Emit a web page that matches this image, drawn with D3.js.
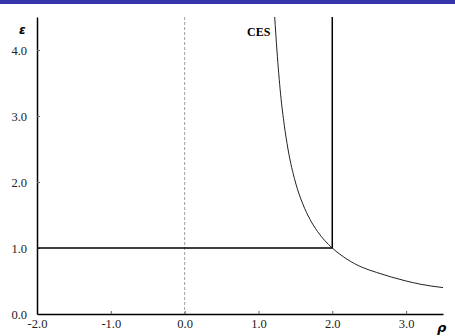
<!DOCTYPE html>
<html>
<head>
<meta charset="utf-8">
<script src="https://cdn.jsdelivr.net/npm/d3@7"></script>
<style>
  body { margin: 0; background: #fff; }
  svg { display: block; }
</style>
</head>
<body>
<div id="chart"></div>
<script>
// values
var rhoTicks = [-2, -1, 0, 1, 2, 3];
var epsTicks = [0, 1, 2, 3, 4];
var cesRho = [1.22, 1.25, 1.3, 1.35, 1.4, 1.5, 1.6, 1.7, 1.8, 1.9, 2.0, 2.2, 2.4, 2.6, 2.8, 3.0, 3.2, 3.5];
var cesEps = [4.5, 4.0, 3.33, 2.86, 2.5, 2.0, 1.67, 1.43, 1.25, 1.11, 1.0, 0.83, 0.71, 0.63, 0.56, 0.5, 0.45, 0.4];
var cornerRho = 2.0, cornerEps = 1.0;

var w = 455, h = 336;
var margin = { top: 17, right: 12, bottom: 22, left: 37 };

var svg = d3.select("#chart")
    .append("svg")
    .attr("width", w)
    .attr("height", h);

// header bar
svg.append("rect")
    .attr("x", 0).attr("y", 0)
    .attr("width", w).attr("height", 4)
    .attr("fill", "#3333aa");

var x = d3.scaleLinear().domain([-2, 3.5]).range([margin.left, w - margin.right]);
var y = d3.scaleLinear().domain([0, 4.5]).range([h - margin.bottom, margin.top]);

var fmt = d => d.toFixed(1);

// dashed line at rho = 0
svg.append("line")
    .attr("x1", x(0)).attr("x2", x(0))
    .attr("y1", y(4.5)).attr("y2", y(0))
    .attr("stroke", "#888")
    .attr("stroke-dasharray", "3,2")
    .attr("stroke-width", 0.8);

// axes
var xAxis = d3.axisBottom(x).tickValues(rhoTicks).tickFormat(fmt).tickSize(-3).tickSizeOuter(0).tickPadding(5);
var yAxis = d3.axisLeft(y).tickValues(epsTicks).tickFormat(fmt).tickSize(-3).tickSizeOuter(0).tickPadding(10);

function styleAxis(g) {
    g.select(".domain").attr("stroke", "#000").attr("stroke-width", 1.5);
    g.selectAll(".tick line").attr("stroke", "#666");
    g.selectAll(".tick text")
        .attr("font-family", "Liberation Serif, Times New Roman, serif")
        .attr("font-size", 12.5)
        .attr("fill", "#222");
}

var gx = svg.append("g")
    .attr("transform", "translate(0," + y(0) + ")")
    .call(xAxis)
    .call(styleAxis);

var gy = svg.append("g")
    .attr("transform", "translate(" + x(-2) + ",0)")
    .call(yAxis)
    .call(styleAxis);
gy.selectAll(".tick").filter(d => d === 0).select("line").remove();
gx.selectAll(".tick").filter(d => d === -2).select("line").remove();

// Leontief-like corner
svg.append("path")
    .attr("d", d3.line()([[x(-2), y(cornerEps)], [x(cornerRho), y(cornerEps)], [x(cornerRho), y(4.5)]]))
    .attr("fill", "none")
    .attr("stroke", "#000")
    .attr("stroke-width", 1.5);

// CES curve
var pts = cesRho.map((r, i) => [r, cesEps[i]]);
svg.append("path")
    .datum(pts)
    .attr("d", d3.line().x(d => x(d[0])).y(d => y(d[1])).curve(d3.curveMonotoneX))
    .attr("fill", "none")
    .attr("stroke", "#222")
    .attr("stroke-width", 1);

svg.append("text")
    .attr("x", 247).attr("y", 36)
    .attr("font-family", "Liberation Serif, serif")
    .attr("font-weight", "bold")
    .attr("font-size", 12)
    .text("CES");

// axis labels
svg.append("text")
    .attr("x", 19).attr("y", 34)
    .attr("font-family", "DejaVu Sans, sans-serif")
    .attr("font-weight", "bold")
    .attr("font-style", "italic")
    .attr("font-size", 12)
    .text("ε");

svg.append("text")
    .attr("x", 437).attr("y", 332)
    .attr("font-family", "DejaVu Sans, sans-serif")
    .attr("font-weight", "bold")
    .attr("font-style", "italic")
    .attr("font-size", 13)
    .text("ρ");
</script>
</body>
</html>
